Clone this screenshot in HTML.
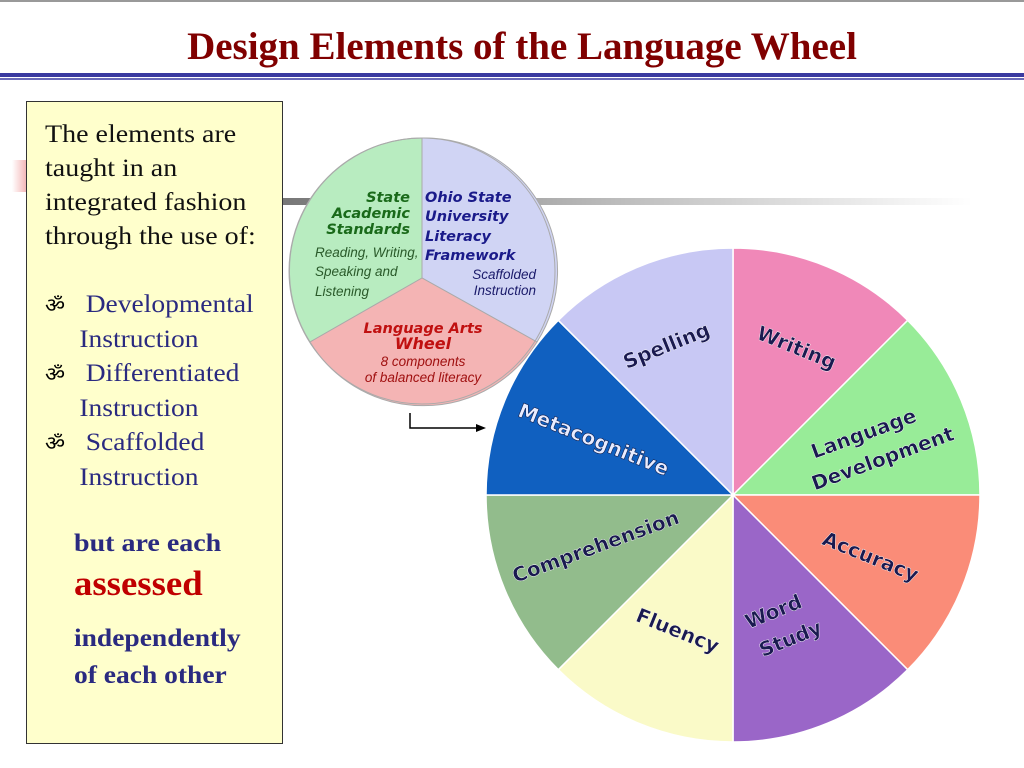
<!DOCTYPE html>
<html><head><meta charset="utf-8"><style>
body{margin:0;width:1024px;height:768px;background:#fff;overflow:hidden;position:relative;font-family:"Liberation Serif",serif}
.t{position:absolute;white-space:nowrap;transform-origin:0 0}
</style></head><body>
<div style="position:absolute;left:0;top:0;width:1024px;height:2px;background:#999"></div>
<div class="t" style="left:10px;width:1024px;text-align:center;top:24px;font-size:39px;font-weight:bold;color:#800000">Design Elements of the Language Wheel</div>
<div style="position:absolute;left:0;top:73px;width:1024px;height:4px;background:#3a3aa0"></div>
<div style="position:absolute;left:0;top:78px;width:1024px;height:2px;background:#6a6ab8"></div>
<div style="position:absolute;left:12px;top:160px;width:14px;height:32px;background:linear-gradient(90deg,#fff,#f4b8b8)"></div>
<div style="position:absolute;left:282px;top:198px;width:690px;height:7px;background:linear-gradient(90deg,#777,#ccc 60%,#fff)"></div>
<div style="position:absolute;left:26px;top:101px;width:255px;height:641px;background:#ffffcc;border:1px solid #333"></div>
<div class="t" style="left:45px;top:118px;font-size:25px;line-height:34px;color:#111;transform:scaleX(1.12)">The elements are<br>taught in an<br>integrated fashion<br>through the use of:</div>
<div class="t" style="left:45px;top:288px;font-size:25px;line-height:34px;color:#2a2a80;transform:scaleX(1.1)"><span style="color:#000;font-size:20px">ॐ</span>&nbsp;&nbsp; Developmental<br>&nbsp;&nbsp;&nbsp;&nbsp;&nbsp;Instruction<br><span style="color:#000;font-size:20px">ॐ</span>&nbsp;&nbsp; Differentiated<br>&nbsp;&nbsp;&nbsp;&nbsp;&nbsp;Instruction<br><span style="color:#000;font-size:20px">ॐ</span>&nbsp;&nbsp; Scaffolded<br>&nbsp;&nbsp;&nbsp;&nbsp;&nbsp;Instruction</div>
<div class="t" style="left:74px;top:530px;font-size:25px;font-weight:bold;color:#2a2a80;transform:scaleX(1.12)">but are each</div>
<div class="t" style="left:74px;top:564px;font-size:35px;font-weight:bold;color:#c00000;transform:scaleX(1.05)">assessed</div>
<div class="t" style="left:74px;top:620px;font-size:25px;font-weight:bold;color:#2a2a80;line-height:37px;transform:scaleX(1.1)">independently<br>of each other</div>
<svg style="position:absolute;left:0;top:0" width="1024" height="768" font-family="DejaVu Sans, sans-serif">
<g stroke="#aaa" stroke-width="1">
<path d="M422,278 L422,138 A133,133 0 0 0 310,342 Z" fill="#b8ecc0"/>
<path d="M422,278 L422,138 A133,133 0 0 1 537,342 Z" fill="#d0d4f4"/>
<path d="M422,278 L310,342 A133,133 0 0 0 537,342 Z" fill="#f4b4b4"/>
</g>
<circle cx="422" cy="271" r="133" fill="none" stroke="#aaa"/>
<g font-weight="bold" font-style="italic" font-size="14.5">
<text x="410" y="202" text-anchor="end" fill="#1a6a1a">State</text>
<text x="410" y="218" text-anchor="end" fill="#1a6a1a">Academic</text>
<text x="410" y="234" text-anchor="end" fill="#1a6a1a">Standards</text>
<text x="425" y="202" fill="#1a1a8a">Ohio State</text>
<text x="425" y="221" fill="#1a1a8a">University</text>
<text x="425" y="241" fill="#1a1a8a">Literacy</text>
<text x="425" y="260" fill="#1a1a8a">Framework</text>
<text x="423" y="333" text-anchor="middle" fill="#c01010">Language Arts</text>
<text x="423" y="349" text-anchor="middle" fill="#c01010" font-size="16">Wheel</text>
</g>
<g font-style="italic" font-size="13.5" font-family="Liberation Sans, sans-serif">
<text x="315" y="257" fill="#2a5a2a">Reading, Writing,</text>
<text x="315" y="276" fill="#2a5a2a">Speaking and</text>
<text x="315" y="296" fill="#2a5a2a">Listening</text>
<text x="536" y="279" text-anchor="end" fill="#1a1a6a">Scaffolded</text>
<text x="536" y="295" text-anchor="end" fill="#1a1a6a">Instruction</text>
<text x="423" y="366" text-anchor="middle" fill="#a01010">8 components</text>
<text x="423" y="382" text-anchor="middle" fill="#a01010">of balanced literacy</text>
</g>
<path d="M410,413 L410,428 L478,428" fill="none" stroke="#000" stroke-width="1.5"/>
<path d="M486,428 L476,424 L476,432 Z" fill="#000"/>
<g stroke="#fff" stroke-width="1.5">
<path d="M733,495 L733,248 A247,247 0 0 1 907.7,320.3 Z" fill="#f088b8"/>
<path d="M733,495 L907.7,320.3 A247,247 0 0 1 980,495 Z" fill="#98ec98"/>
<path d="M733,495 L980,495 A247,247 0 0 1 907.7,669.7 Z" fill="#fa8c78"/>
<path d="M733,495 L907.7,669.7 A247,247 0 0 1 733,742 Z" fill="#9a66c8"/>
<path d="M733,495 L733,742 A247,247 0 0 1 558.3,669.7 Z" fill="#fafac8"/>
<path d="M733,495 L558.3,669.7 A247,247 0 0 1 486,495 Z" fill="#92bc8c"/>
<path d="M733,495 L486,495 A247,247 0 0 1 558.3,320.3 Z" fill="#1060c0"/>
<path d="M733,495 L558.3,320.3 A247,247 0 0 1 733,248 Z" fill="#c8c8f4"/>
</g>
<g font-size="20" font-weight="bold" fill="#1a1a50" text-anchor="middle" stroke="#fff" stroke-width="0.4">
<text transform="translate(669,352) rotate(-22)">Spelling</text>
<text transform="translate(794,354) rotate(22)">Writing</text>
<text transform="translate(866,440) rotate(-20)">Language</text>
<text transform="translate(885,465) rotate(-20)">Development</text>
<text transform="translate(868,563) rotate(22)">Accuracy</text>
<text transform="translate(776,618) rotate(-22)">Word</text>
<text transform="translate(793,645) rotate(-22)">Study</text>
<text transform="translate(675,637) rotate(22)">Fluency</text>
<text transform="translate(598,553) rotate(-20)">Comprehension</text>
<text transform="translate(591,446) rotate(22)" fill="#e8ecff" stroke="#102050" stroke-width="0.6">Metacognitive</text>
</g>
</svg>
</body></html>
